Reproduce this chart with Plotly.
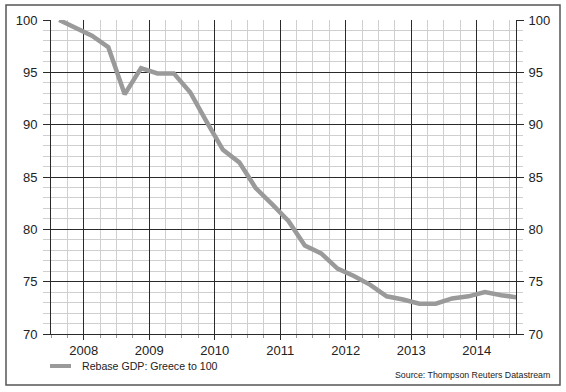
import plotly.graph_objects as go

# Quarterly points (plotted at mid-quarter)
quarters = [2007.625, 2007.875,
            2008.125, 2008.375, 2008.625, 2008.875,
            2009.125, 2009.375, 2009.625, 2009.875,
            2010.125, 2010.375, 2010.625, 2010.875,
            2011.125, 2011.375, 2011.625, 2011.875,
            2012.125, 2012.375, 2012.625, 2012.875,
            2013.125, 2013.375, 2013.625, 2013.875,
            2014.125, 2014.375, 2014.625]
gdp = [100.0, 99.2,
       98.5, 97.4, 92.9, 95.4,
       94.9, 94.9, 93.1, 90.3,
       87.6, 86.4, 83.95, 82.4,
       80.8, 78.45, 77.7, 76.25,
       75.55, 74.7, 73.6, 73.3,
       72.9, 72.9, 73.4, 73.6,
       74.0, 73.7, 73.5]
year_ticks = [2008, 2009, 2010, 2011, 2012, 2013, 2014]
year_labels = [str(y) for y in year_ticks]
y_ticks = [70, 75, 80, 85, 90, 95, 100]
series_name = "Rebase GDP: Greece to 100"
source_text = "Source: Thompson Reuters Datastream"

W, H = 566, 392
L, R, T, B = 51, 516, 20, 334
pw, ph = R - L, B - T

def px(x):
    return (x - L) / pw

def py(y):
    return (B - y) / ph

FONT = "Liberation Sans, Arial, Helvetica, sans-serif"
line_color = "#9a9a9a"
major = "#2a2a2a"
minor = "#cfcfcf"

fig = go.Figure()
fig.add_trace(go.Scatter(x=quarters, y=gdp, mode="lines", name=series_name,
                         line=dict(color=line_color, width=4.5), showlegend=False,
                         cliponaxis=True))
# invisible trace for right axis
fig.add_trace(go.Scatter(x=[quarters[0]], y=[gdp[0]], yaxis="y2", mode="lines",
                         line=dict(width=0), showlegend=False, hoverinfo="skip"))

axis_font = dict(family=FONT, size=13, color="#222")

fig.update_layout(
    width=W, height=H,
    margin=dict(l=L, r=W - R, t=T, b=H - B, pad=0),
    paper_bgcolor="white", plot_bgcolor="white",
    font=dict(family=FONT, color="#222"),
    xaxis=dict(range=[2007.5, 2014.6], tickvals=year_ticks, ticktext=year_labels,
               automargin=False,
               showgrid=True, gridcolor=major, gridwidth=1,
               ticks="outside", ticklen=5, tickcolor=major, tickwidth=1,
               ticklabelstandoff=-1,
               tickfont=axis_font, zeroline=False,
               showline=True, linecolor=major, linewidth=1,
               minor=dict(dtick=0.25, tick0=2008, showgrid=True, gridcolor=minor,
                          gridwidth=1, ticks="outside", ticklen=3, tickcolor="#999")),
    yaxis=dict(range=[70, 100], tickvals=y_ticks, showgrid=True, gridcolor=major,
               automargin=False,
               gridwidth=1, ticks="outside", ticklen=7, tickcolor=major,
               ticklabelstandoff=3,
               tickfont=axis_font, zeroline=False,
               showline=True, linecolor=major, linewidth=1,
               minor=dict(dtick=1, tick0=70, showgrid=True, gridcolor=minor,
                          gridwidth=1, ticks="outside", ticklen=7, tickcolor=minor)),
    yaxis2=dict(range=[70, 100], tickvals=y_ticks, overlaying="y", side="right",
                automargin=False,
                showgrid=False, ticks="outside", ticklen=7, tickcolor=major,
                ticklabelstandoff=2,
                tickfont=axis_font, zeroline=False,
                showline=True, linecolor=major, linewidth=1,
                minor=dict(dtick=1, tick0=70, ticks="outside", ticklen=6,
                           tickcolor=minor)),
    shapes=[
        dict(type="rect", xref="paper", yref="paper",
             x0=px(6), x1=px(560), y0=py(385), y1=py(5),
             line=dict(color="#555", width=1.5), layer="above"),
        dict(type="line", xref="paper", yref="paper",
             x0=px(50), x1=px(71), y0=py(366), y1=py(366),
             line=dict(color=line_color, width=4)),
    ],
    annotations=[
        dict(text=series_name, xref="paper", yref="paper", x=px(80), y=py(366),
             xanchor="left", yanchor="middle", showarrow=False,
             font=dict(family=FONT, size=10.6, color="#222")),
        dict(text=source_text, xref="paper", yref="paper", x=px(552), y=py(375),
             xanchor="right", yanchor="middle", showarrow=False,
             font=dict(family=FONT, size=8.8, color="#222")),
    ],
)

fig.write_html("out.html", config={"displayModeBar": False},
               post_script="document.body.style.margin='0';document.body.style.overflow='hidden';")
